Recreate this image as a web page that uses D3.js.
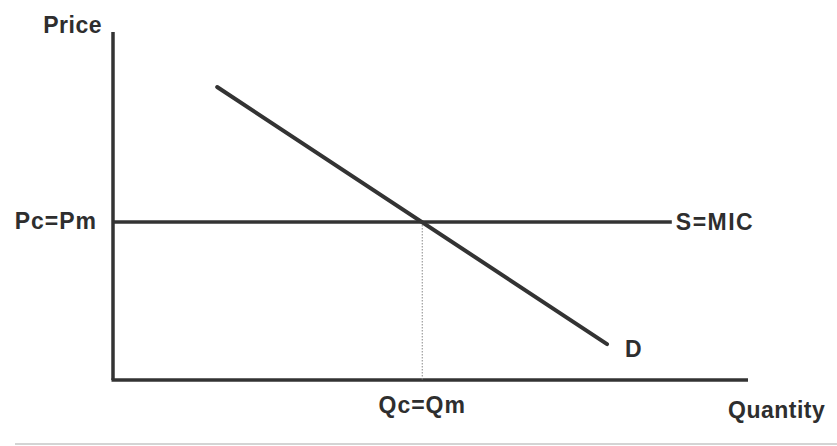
<!DOCTYPE html>
<meta charset="utf-8">
<script src="https://d3js.org/d3.v7.min.js"></script>
<style>
  body { margin: 0; background: #fff; }
  text { font-family: "Liberation Sans", Arial, sans-serif; font-weight: bold; fill: #2e2e2e; }
</style>
<div id="my_dataviz"></div>
<script>

// chart values (quantity and price in 0..100 units)
var demandPoints = [ {q: 16.4, p: 84.2}, {q: 77.8, p: 10.3} ];
var supplyQ = [0, 88.0];
var priceEq = 45.4;
var quantityEq = 48.7;
var labels = { price: "Price", quantity: "Quantity", pEq: "Pc=Pm", qEq: "Qc=Qm", supply: "S=MIC", demand: "D" };

var W = 837, H = 446;
var margin = {top: 32, right: 89, bottom: 66, left: 113},
    width = W - margin.left - margin.right,
    height = H - margin.top - margin.bottom;

var svg = d3.select("#my_dataviz")
  .append("svg")
    .attr("width", W)
    .attr("height", H);

var x = d3.scaleLinear().domain([0, 100]).range([margin.left, margin.left + width]);
var y = d3.scaleLinear().domain([0, 100]).range([margin.top + height, margin.top]);

var ink = "#333";

// axes (plain lines, no ticks)
svg.append("line")
  .attr("x1", x(0)).attr("x2", x(0))
  .attr("y1", y(100)).attr("y2", y(0))
  .attr("stroke", ink).attr("stroke-width", 3.5);
svg.append("line")
  .attr("x1", x(0) - 1.5).attr("x2", x(100))
  .attr("y1", y(0)).attr("y2", y(0))
  .attr("stroke", ink).attr("stroke-width", 3.5);

// dotted drop line at equilibrium quantity
svg.append("line")
  .attr("x1", x(quantityEq)).attr("x2", x(quantityEq))
  .attr("y1", y(priceEq)).attr("y2", y(0))
  .attr("stroke", "#888").attr("stroke-width", 1)
  .attr("stroke-dasharray", "1.5,1.5");

// supply S=MIC (horizontal)
svg.append("line")
  .attr("x1", x(supplyQ[0])).attr("x2", x(supplyQ[1]))
  .attr("y1", y(priceEq)).attr("y2", y(priceEq))
  .attr("stroke", ink).attr("stroke-width", 3.5);

// demand
svg.append("path")
  .datum(demandPoints)
  .attr("fill", "none")
  .attr("stroke", ink)
  .attr("stroke-width", 4)
  .attr("stroke-linecap", "round")
  .attr("d", d3.line()
    .x(function(d) { return x(d.q) })
    .y(function(d) { return y(d.p) }));

// labels
var fs = 23;
svg.append("text").attr("x", x(0) - 11).attr("y", y(100) + 1)
  .attr("text-anchor", "end").attr("font-size", fs).attr("letter-spacing", 0.5)
  .text(labels.price);
svg.append("text").attr("x", x(0) - 16).attr("y", y(priceEq) + 7)
  .attr("text-anchor", "end").attr("font-size", fs).attr("letter-spacing", 1)
  .text(labels.pEq);
svg.append("text").attr("x", x(supplyQ[1]) + 4).attr("y", y(priceEq) + 8)
  .attr("font-size", fs).attr("letter-spacing", 1.5)
  .text(labels.supply);
svg.append("text").attr("x", x(demandPoints[1].q) + 18).attr("y", y(demandPoints[1].p) + 13)
  .attr("font-size", fs)
  .text(labels.demand);
svg.append("text").attr("x", x(quantityEq)).attr("y", y(0) + 33)
  .attr("text-anchor", "middle").attr("font-size", fs).attr("letter-spacing", 1)
  .text(labels.qEq);
svg.append("text").attr("x", x(100) - 20).attr("y", y(0) + 38)
  .attr("font-size", fs).attr("letter-spacing", 0.5)
  .text(labels.quantity);

// faint scan edge along the bottom
svg.append("line")
  .attr("x1", 15).attr("x2", W)
  .attr("y1", H - 2).attr("y2", H - 2)
  .attr("stroke", "#d4d4d4").attr("stroke-width", 2);

</script>
